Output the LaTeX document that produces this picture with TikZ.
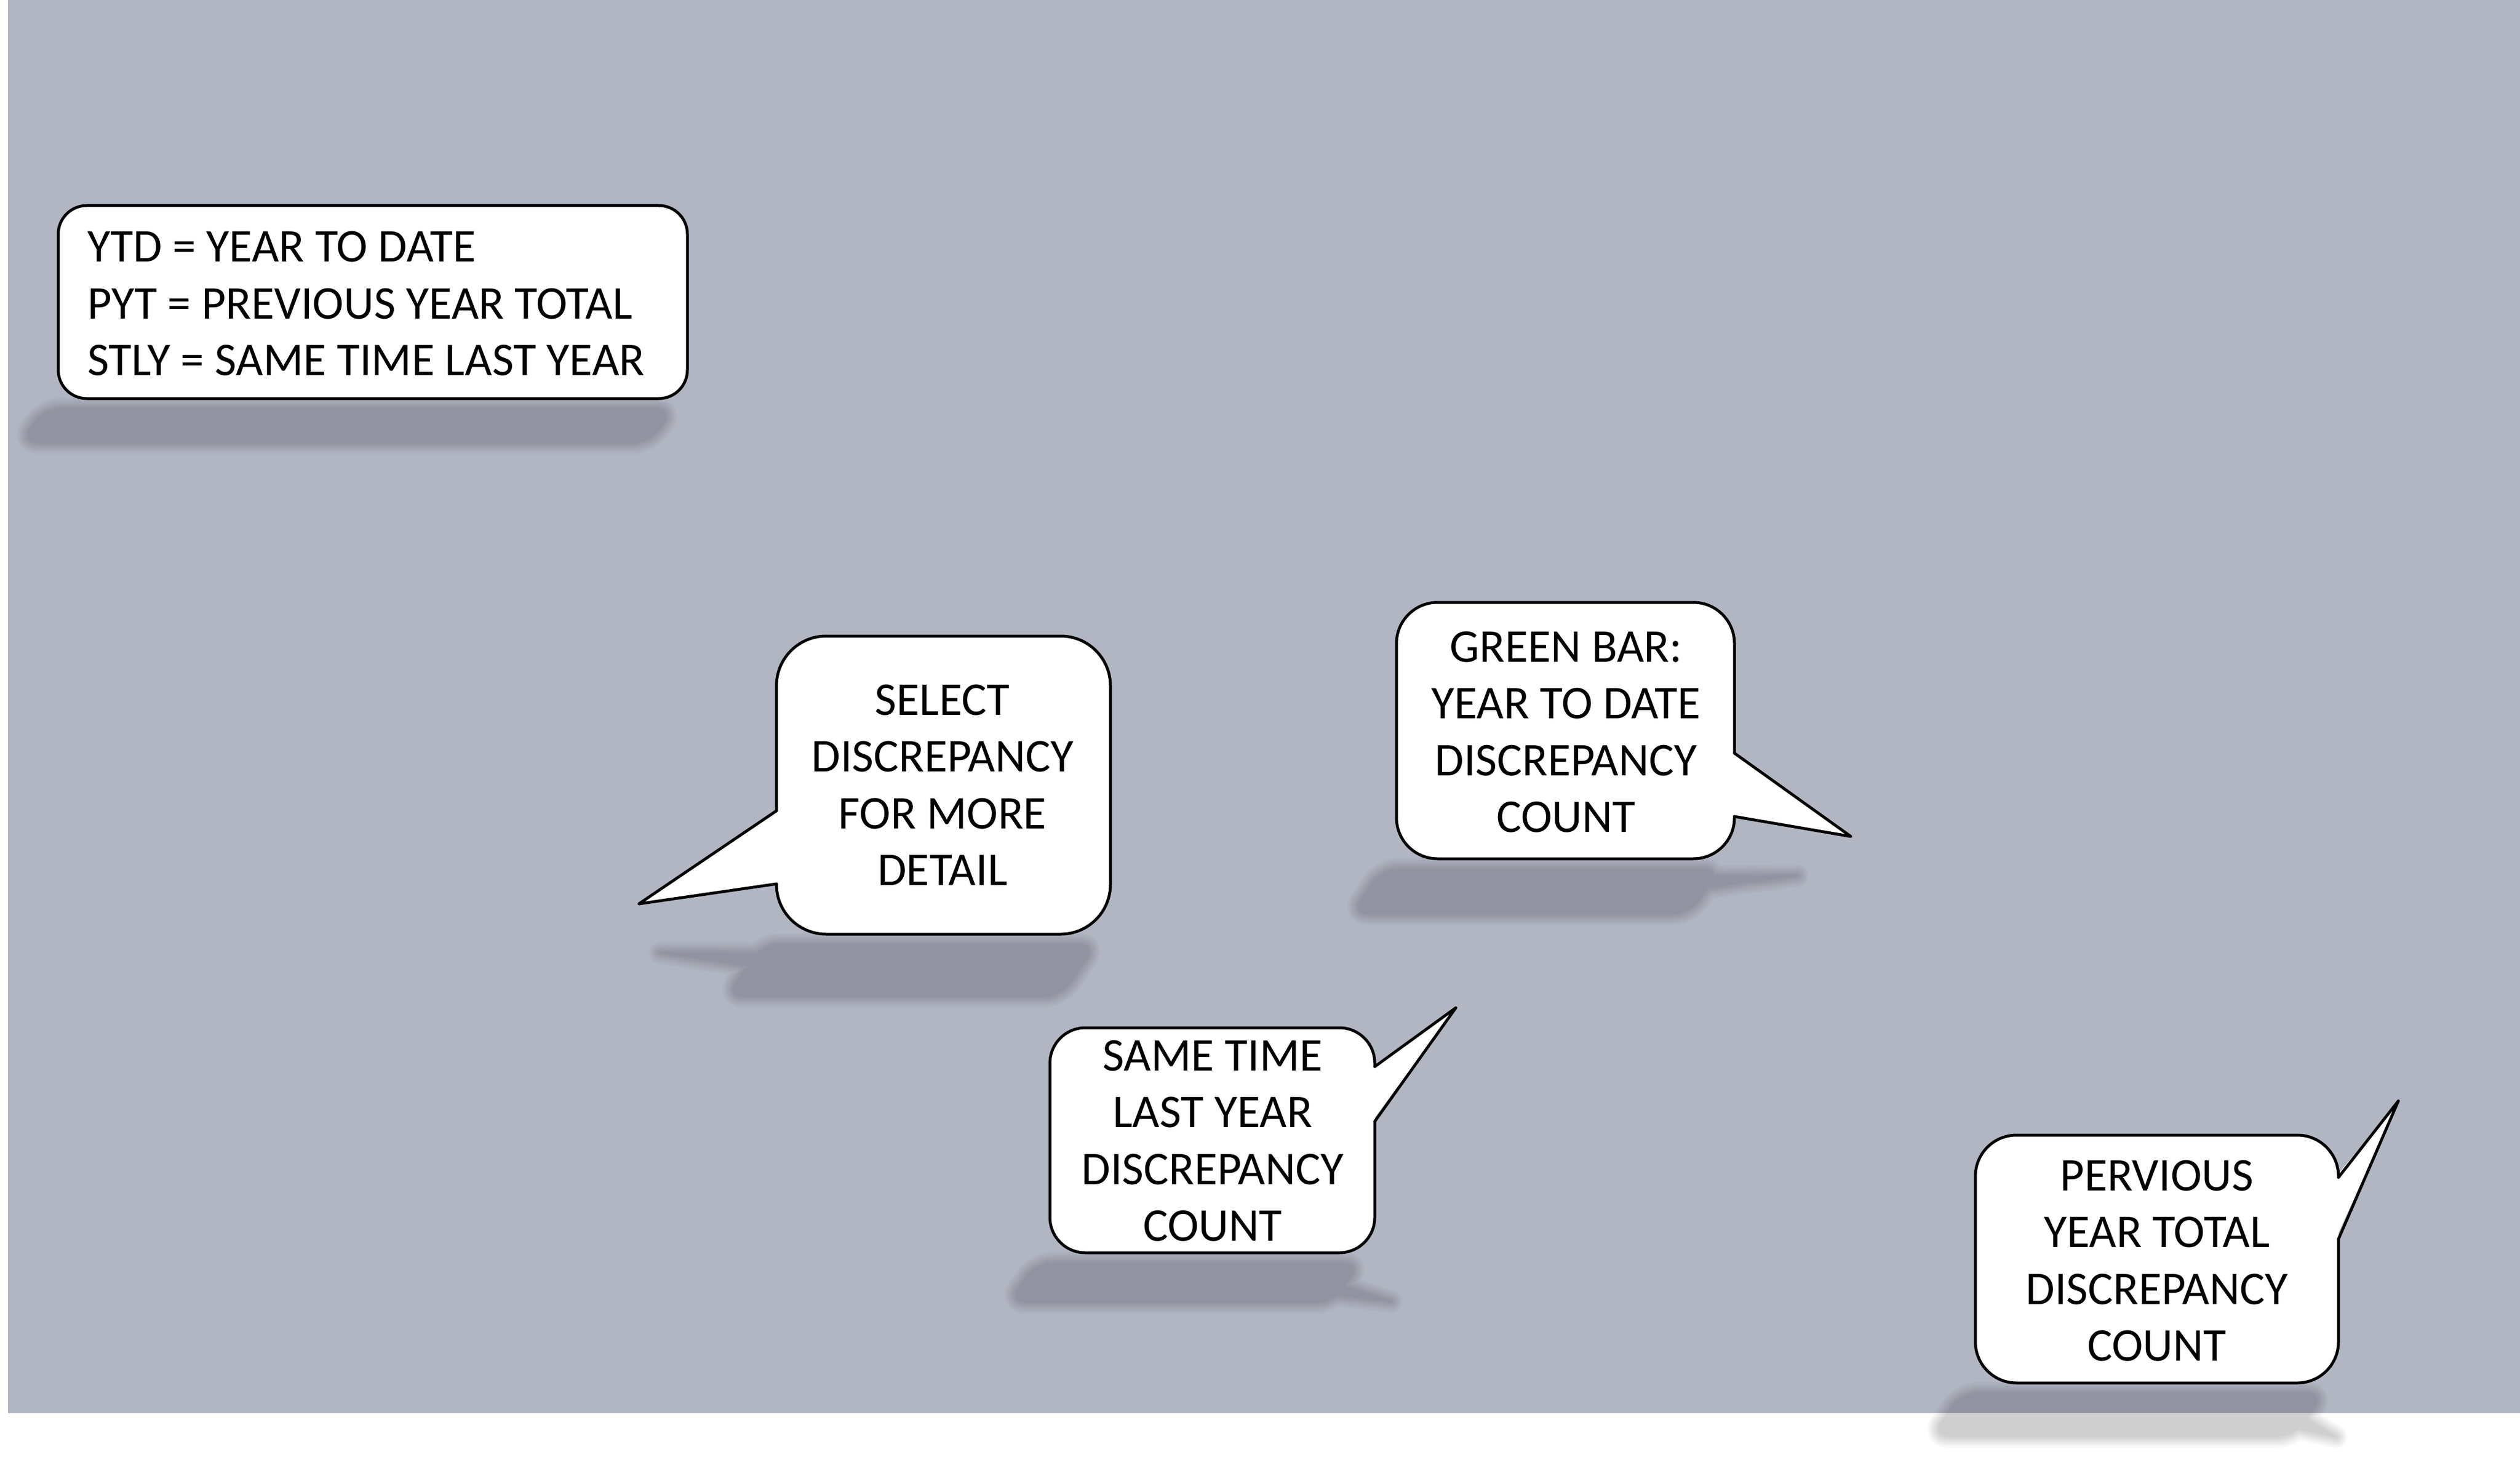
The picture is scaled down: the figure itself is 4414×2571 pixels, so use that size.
\documentclass[tikz,border=0pt]{standalone}
\usepackage{fontspec}
\setmainfont{Carlito}
\definecolor{bggray}{HTML}{B2B6C3}
\definecolor{shgray}{HTML}{9194A0}
\definecolor{shwhite}{HTML}{CFCFCF}
\colorlet{bgc}{bggray}
\colorlet{shc}{shgray}
% shadow point: perspective (flipped, squashed, slanted) image below bottom edge \yb
\newcommand\shp[2]{({(#1)-25-0.12*(\yb-(#2))},{\yb+18+0.175*(\yb-(#2))})}
% shortened wedge tip (70% of the way from the base middle to the tip)
\newcommand\shtip[4]{\shp{(#1)+0.7*((#3)-(#1))}{(#2)+0.7*((#4)-(#2))}}
% #1 L, #2 T, #3 R, #4 B, #5 wedge side x, #6 p1 y, #7 tip x, #8 tip y, #9 p2 y
\newcommand\mkshadow[9]{%
  \def\yb{#4}%
  \pgfmathsetmacro\bm{(#6+#9)/2}%
  \foreach \i in {1,...,12}{%
    \pgfmathsetmacro\w{8*(13-\i)/12}%
    \pgfmathsetmacro\pc{100*\i/13}%
    \draw[line width=\w pt, color=shc!\pc!bgc, line join=round, rounded corners=6pt]
      \shp{#1}{#2} -- \shp{#3}{#2} -- \shp{#3}{#4} -- \shp{#1}{#4} -- cycle;
    \draw[line width=\w pt, color=shc!\pc!bgc, line join=round]
      \shp{#5}{#6} -- \shtip{#5}{\bm}{#7}{#8} -- \shp{#5}{#9} -- cycle;
  }%
  \fill[shc, rounded corners=6pt]
      \shp{#1}{#2} -- \shp{#3}{#2} -- \shp{#3}{#4} -- \shp{#1}{#4} -- cycle;
  \fill[shc] \shp{#5}{#6} -- \shtip{#5}{\bm}{#7}{#8} -- \shp{#5}{#9} -- cycle;
}
\tikzset{
  outline/.style={draw=black, line width=1pt, line cap=round, line join=round},
  txt/.style={inner sep=0pt, font={\fontsize{16.45pt}{19.9pt}\selectfont}, text=black}
}
\begin{document}
\begin{tikzpicture}[x=0.2pt, y=-0.2pt]
\useasboundingbox (0,0) rectangle (4414,2571);
\fill[white] (0,0) rectangle (4414,2571);
\fill[bggray] (14,0) rectangle (4414,2475);

% ---- shadows ----
\mkshadow{102}{360}{1204}{698}{600}{500}{600}{500}{500}
\mkshadow{1360}{1114}{1945}{1636}{1360}{1420}{1119}{1583}{1548}
\mkshadow{2446}{1055}{3038}{1504}{3038}{1319}{3242}{1465}{1430}
\mkshadow{1839}{1800}{2408}{2194}{2408}{1868}{2550}{1765}{1964}
\begin{scope}
  \clip (0,0) rectangle (4414,2475);
  \mkshadow{3460}{1988}{4096}{2422}{4096}{2062}{4201}{1928}{2170}
\end{scope}
\begin{scope}
  \clip (0,2475) rectangle (4414,2571);
  \colorlet{bgc}{white}
  \colorlet{shc}{shwhite}
  \mkshadow{3460}{1988}{4096}{2422}{4096}{2062}{4201}{1928}{2170}
\end{scope}

% ---- legend box ----
\fill[white, rounded corners=10pt] (102,360) rectangle (1204,698);
\draw[outline, rounded corners=10pt] (102,360) rectangle (1204,698);
\node[txt, anchor=west, align=left] (legend) at (152,532)
  {YTD = YEAR TO DATE\\PYT = PREVIOUS YEAR TOTAL\\STLY = SAME TIME LAST YEAR};

% ---- SELECT callout (wedge left) ----
\fill[white, rounded corners=17.4pt] (1360,1114) rectangle (1945,1636);
\fill[white] (1365,1420) -- (1119,1583) -- (1365,1548) -- cycle;
\draw[outline, rounded corners=17.4pt] (1360,1548) -- (1360,1636) -- (1945,1636) -- (1945,1114) -- (1360,1114) -- (1360,1420);
\draw[outline] (1360,1420) -- (1119,1583) -- (1360,1548);
\node[txt, align=center] (select) at (1651,1375)
  {SELECT\\DISCREPANCY\\FOR MORE\\DETAIL};

% ---- GREEN BAR callout (wedge right) ----
\fill[white, rounded corners=14.4pt] (2446,1055) rectangle (3038,1504);
\fill[white] (3033,1319) -- (3242,1465) -- (3033,1430) -- cycle;
\draw[outline, rounded corners=14.4pt] (3038,1319) -- (3038,1055) -- (2446,1055) -- (2446,1504) -- (3038,1504) -- (3038,1430);
\draw[outline] (3038,1319) -- (3242,1465) -- (3038,1430);
\node[txt, align=center] (green) at (2743,1282)
  {GREEN BAR:\\YEAR TO DATE\\DISCREPANCY\\COUNT};

% ---- SAME TIME callout (wedge right, up) ----
\fill[white, rounded corners=12.4pt] (1839,1800) rectangle (2408,2194);
\fill[white] (2403,1868) -- (2550,1765) -- (2403,1964) -- cycle;
\draw[outline, rounded corners=12.4pt] (2408,1868) -- (2408,1800) -- (1839,1800) -- (1839,2194) -- (2408,2194) -- (2408,1964);
\draw[outline] (2408,1868) -- (2550,1765) -- (2408,1964);
\node[txt, align=center] (stly) at (2124,1998)
  {SAME TIME\\LAST YEAR\\DISCREPANCY\\COUNT};

% ---- PERVIOUS callout (wedge right, up) ----
\fill[white, rounded corners=14.4pt] (3460,1988) rectangle (4096,2422);
\fill[white] (4091,2062) -- (4201,1928) -- (4091,2170) -- cycle;
\draw[outline, rounded corners=14.4pt] (4096,2062) -- (4096,1988) -- (3460,1988) -- (3460,2422) -- (4096,2422) -- (4096,2170);
\draw[outline] (4096,2062) -- (4201,1928) -- (4096,2170);
\node[txt, align=center] (pyt) at (3778,2208)
  {PERVIOUS\\YEAR TOTAL\\DISCREPANCY\\COUNT};
\end{tikzpicture}
\end{document}
